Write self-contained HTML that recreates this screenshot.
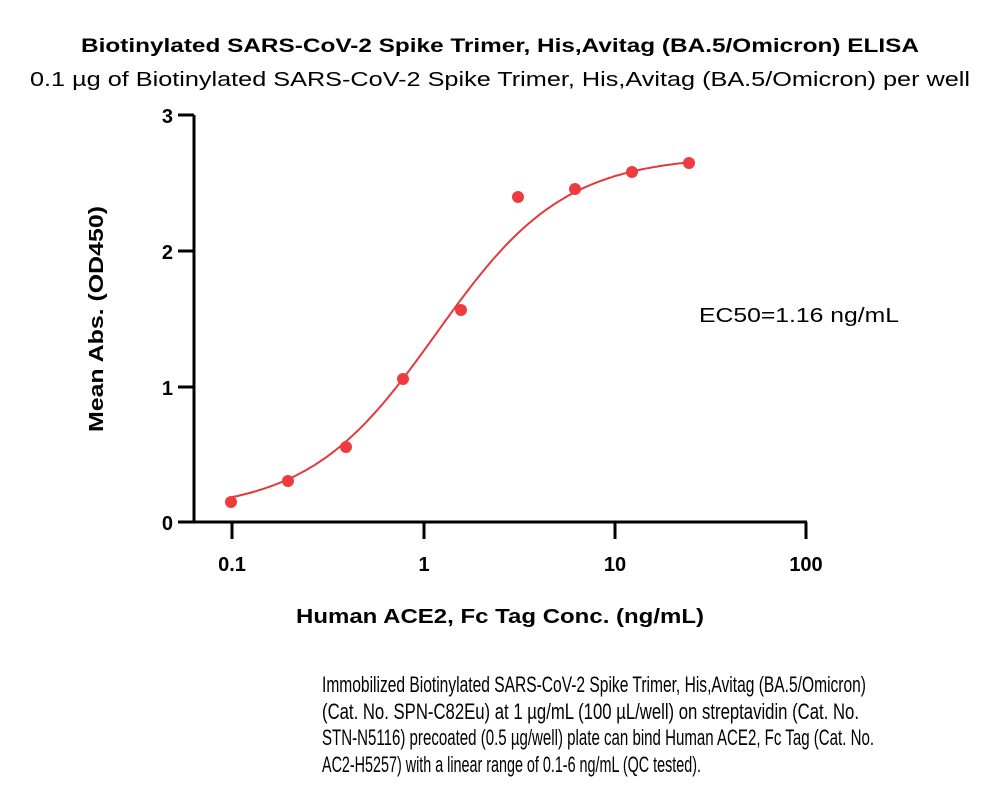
<!DOCTYPE html>
<html><head><meta charset="utf-8"><style>
html,body{margin:0;padding:0;background:#fff;}
svg{display:block;font-family:"Liberation Sans",sans-serif;}
</style></head><body>
<svg width="1000" height="789" viewBox="0 0 1000 789" xmlns="http://www.w3.org/2000/svg">
<text x="500" y="52" text-anchor="middle" font-size="19" font-weight="bold" textLength="838" lengthAdjust="spacingAndGlyphs">Biotinylated SARS-CoV-2 Spike Trimer, His,Avitag (BA.5/Omicron) ELISA</text>
<text x="500" y="86" text-anchor="middle" font-size="20" textLength="940" lengthAdjust="spacingAndGlyphs">0.1 µg of Biotinylated SARS-CoV-2 Spike Trimer, His,Avitag (BA.5/Omicron) per well</text>
<g stroke="#000" stroke-width="3" fill="none">
<line x1="194" y1="115" x2="194" y2="523"/>
<line x1="192" y1="522" x2="807" y2="522"/>
<line x1="178" y1="115" x2="194" y2="115"/>
<line x1="178" y1="251" x2="194" y2="251"/>
<line x1="178" y1="387" x2="194" y2="387"/>
<line x1="178" y1="522" x2="194" y2="522"/>
<line x1="232" y1="522" x2="232" y2="539"/>
<line x1="424" y1="522" x2="424" y2="539"/>
<line x1="615" y1="522" x2="615" y2="539"/>
<line x1="806" y1="522" x2="806" y2="539"/>
</g>
<g font-size="20" font-weight="bold" text-anchor="end">
<text x="173" y="123">3</text><text x="173" y="259">2</text><text x="173" y="395">1</text><text x="173" y="530">0</text>
</g>
<g font-size="20" font-weight="bold" text-anchor="middle">
<text x="232" y="571">0.1</text><text x="424" y="571">1</text><text x="615" y="571">10</text><text x="806" y="571">100</text>
</g>
<text x="500" y="623" text-anchor="middle" font-size="20" font-weight="bold" textLength="408" lengthAdjust="spacingAndGlyphs">Human ACE2, Fc Tag Conc. (ng/mL)</text>
<text transform="translate(103,319) rotate(-90)" text-anchor="middle" font-size="20" font-weight="bold" textLength="226" lengthAdjust="spacingAndGlyphs">Mean Abs. (OD450)</text>
<text x="699" y="322" font-size="20" textLength="200" lengthAdjust="spacingAndGlyphs">EC50=1.16 ng/mL</text>
<path id="curve" fill="none" stroke="#e03a3e" stroke-width="2"/>
<g fill="#ee3b3f">
<circle cx="231" cy="502" r="6"/><circle cx="288" cy="481" r="6"/><circle cx="346" cy="447" r="6"/>
<circle cx="403" cy="379" r="6"/><circle cx="461" cy="310" r="6"/><circle cx="518" cy="197" r="6"/>
<circle cx="575" cy="189" r="6"/><circle cx="632" cy="172" r="6"/><circle cx="689" cy="163" r="6"/>
</g>
<g font-size="22">
<text x="322" y="692" textLength="544" lengthAdjust="spacingAndGlyphs">Immobilized Biotinylated SARS-CoV-2 Spike Trimer, His,Avitag (BA.5/Omicron)</text>
<text x="322" y="719" textLength="537" lengthAdjust="spacingAndGlyphs">(Cat. No. SPN-C82Eu) at 1 µg/mL (100 µL/well) on streptavidin (Cat. No.</text>
<text x="322" y="745" textLength="552" lengthAdjust="spacingAndGlyphs">STN-N5116) precoated (0.5 µg/well) plate can bind Human ACE2, Fc Tag (Cat. No.</text>
<text x="322" y="772" textLength="379" lengthAdjust="spacingAndGlyphs">AC2-H5257) with a linear range of 0.1-6 ng/mL (QC tested).</text>
</g>
</svg>
<script>
var B=0.08,T=2.7,E=1.16,H=1.3,d="";
for(var x=231;x<=689;x+=2){var c=Math.pow(10,(x-424)/191.5);var f=Math.pow(c/E,H);var v=B+(T-B)*f/(1+f);var y=522-135.7*v;d+=(d?"L":"M")+x+","+y.toFixed(1);}
document.getElementById("curve").setAttribute("d",d);
</script>
</body></html>
